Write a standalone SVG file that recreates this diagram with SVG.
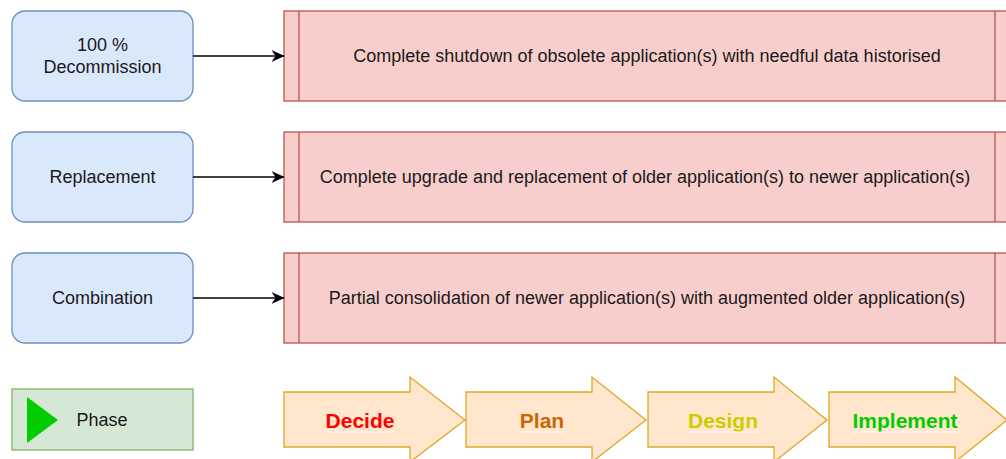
<svg xmlns="http://www.w3.org/2000/svg" width="1006" height="459" viewBox="0 0 1006 459">
  <style>
    .lbl { font-family: "Liberation Sans", Arial, sans-serif; font-size: 18px; fill: #1a1a1a; text-anchor: middle; dominant-baseline: central; }
    .opt { fill: #dae8fc; stroke: #6c8ebf; stroke-width: 1.3; }
    .proc { fill: #f8cecc; stroke: #b85450; stroke-width: 1.3; }
    .phase { fill: #ffe6cc; stroke: #d79b00; stroke-width: 1.3; stroke-opacity: 0.85; }
    .ph { font-family: "Liberation Sans", Arial, sans-serif; font-size: 21px; font-weight: bold; text-anchor: middle; dominant-baseline: central; }
    .ul { stroke: #ffffff; stroke-width: 1; }
    .conn { stroke: #000000; stroke-width: 1.3; fill: none; }
  </style>
  <defs>
    <marker id="arrow" viewBox="0 0 13 12" refX="12.5" refY="6" markerWidth="13" markerHeight="12" markerUnits="userSpaceOnUse" orient="auto">
      <path d="M0,0 L13,6 L0,12 L4,6 Z" fill="#000000"/>
    </marker>
  </defs>
  <rect width="1006" height="459" fill="#ffffff"/>

  <!-- option boxes -->
  <g id="decommission">
    <rect class="opt" x="12" y="11" width="181" height="90" rx="13"/>
    <text class="lbl" x="102.5" y="45">100 %</text>
    <text class="lbl" x="102.5" y="67">Decommission</text>
  </g>
  <g id="replacement">
    <rect class="opt" x="12" y="132" width="181" height="90" rx="13"/>
    <text class="lbl" x="102.5" y="177">Replacement</text>
  </g>
  <g id="combination">
    <rect class="opt" x="12" y="253" width="181" height="90" rx="13"/>
    <text class="lbl" x="102.5" y="298">Combination</text>
  </g>

  <!-- description processes -->
  <g id="desc-decommission">
    <rect class="proc" x="284" y="11" width="726" height="90"/>
    <line class="proc" x1="299" y1="11" x2="299" y2="101"/>
    <line class="proc" x1="995" y1="11" x2="995" y2="101"/>
    <text class="lbl" x="647" y="56">Complete shutdown of obsolete application(s) with needful data historised</text>
  </g>
  <g id="desc-replacement">
    <rect class="proc" x="284" y="132" width="726" height="90"/>
    <line class="proc" x1="299" y1="132" x2="299" y2="222"/>
    <line class="proc" x1="995" y1="132" x2="995" y2="222"/>
    <text class="lbl" x="645" y="177">Complete upgrade and replacement of older application(s) to newer application(s)</text>
  </g>
  <g id="desc-combination">
    <rect class="proc" x="284" y="253" width="726" height="90"/>
    <line class="proc" x1="299" y1="253" x2="299" y2="343"/>
    <line class="proc" x1="995" y1="253" x2="995" y2="343"/>
    <text class="lbl" x="647" y="298">Partial consolidation of newer application(s) with augmented older application(s)</text>
  </g>

  <!-- connectors -->
  <g id="connectors">
    <line class="conn" x1="193" y1="56" x2="284" y2="56" marker-end="url(#arrow)"/>
    <line class="conn" x1="193" y1="177" x2="284" y2="177" marker-end="url(#arrow)"/>
    <line class="conn" x1="193" y1="298" x2="284" y2="298" marker-end="url(#arrow)"/>
  </g>

  <!-- legend -->
  <g id="legend-phase">
    <rect x="12" y="389" width="181" height="61" fill="#d5e8d4" stroke="#82b366" stroke-width="1.3"/>
    <polygon points="27,397 58,420 27,443" fill="#00cc00"/>
    <text class="lbl" x="102" y="420">Phase</text>
  </g>

  <!-- phase arrows -->
  <g id="phase-decide">
    <path class="phase" d="M284,392 H410 V377 L465,420 L410,462 V447 H284 Z"/>
    <text class="ph" x="360" y="420" fill="#ff0000">Decide</text>
    <line class="ul" x1="326" y1="432" x2="394" y2="432"/>
  </g>
  <g id="phase-plan">
    <path class="phase" d="M466,392 H592 V377 L646,420 L592,462 V447 H466 Z"/>
    <text class="ph" x="542" y="420" fill="#cc6600">Plan</text>
    <line class="ul" x1="519" y1="432" x2="564" y2="432"/>
  </g>
  <g id="phase-design">
    <path class="phase" d="M648,392 H774 V377 L827,420 L774,462 V447 H648 Z"/>
    <text class="ph" x="723" y="420" fill="#cccc00">Design</text>
    <line class="ul" x1="687" y1="432" x2="759" y2="432"/>
  </g>
  <g id="phase-implement">
    <path class="phase" d="M829,392 H955 V377 L1007,420 L955,462 V447 H829 Z"/>
    <text class="ph" x="905" y="420" fill="#00cc00">Implement</text>
    <line class="ul" x1="852" y1="432" x2="957" y2="432"/>
  </g>
</svg>
